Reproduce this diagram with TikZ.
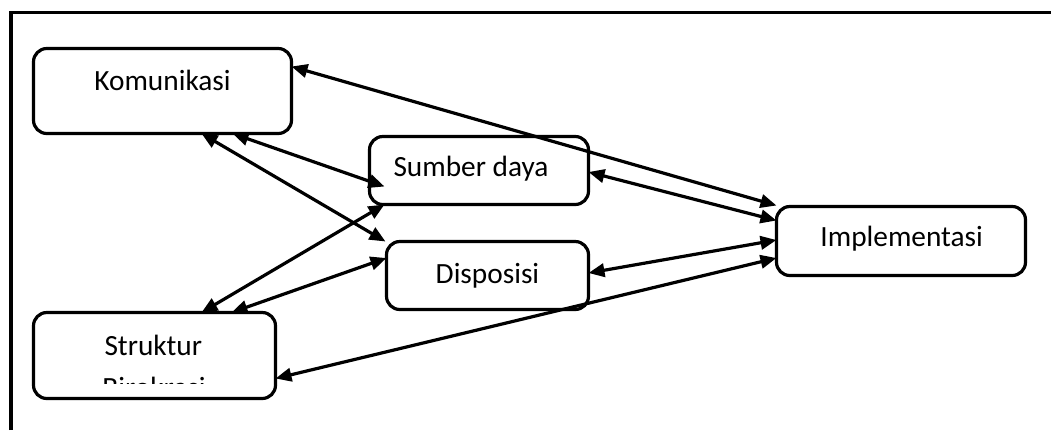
\documentclass[tikz,border=0pt]{standalone}
\usepackage{fontspec}
\setmainfont{Carlito}
\usetikzlibrary{arrows.meta,calc}
\begin{document}
\begin{tikzpicture}[x=0.75pt,y=-0.75pt,
  box/.style={draw=black,line width=2.4pt,rounded corners=10pt,inner sep=0pt,outer sep=0pt},
  lbl/.style={anchor=base,inner sep=0pt,font=\fontsize{22}{26}\selectfont},
  link/.style={line width=2.4pt,{Triangle[length=12pt,width=10pt]}-{Triangle[length=12pt,width=10pt]}}]
\useasboundingbox (0,0) rectangle (1051,430);
% outer frame (left and top only)
\draw[line width=2.8pt] (11,430) -- (11,12.5) -- (1051,12.5);
% boxes
\node[box,minimum width=258*0.75pt,minimum height=85*0.75pt] (kom) at (162.5,91) {};
\node[box,minimum width=219*0.75pt,minimum height=68*0.75pt] (sum) at (479,170.5) {};
\node[box,minimum width=202*0.75pt,minimum height=68*0.75pt] (dis) at (487.5,275.5) {};
\node[box,minimum width=249*0.75pt,minimum height=69*0.75pt] (imp) at (901,241) {};
\node[box,minimum width=242*0.75pt,minimum height=86*0.75pt] (str) at (154.5,355.5) {};
% labels
\node[lbl] (tkom) at (162.5,90) {Komunikasi};
\node[lbl] (tsum) at (471,176.7) {Sumber daya};
\node[lbl] (tdis) at (487.5,283.3) {Disposisi};
\node[lbl] (timp) at (901.7,246.7) {Implementasi};
\node[lbl] (tstr) at (153.3,355) {Struktur};
\begin{scope}
\clip (34,360) rectangle (275,383);
\node[lbl] (tbir) at (154,397) {Birokrasi};
\end{scope}
% connectors
\coordinate (k1) at ($(kom.north east)+(0,18)$);
\coordinate (k2) at ($(kom.south west)+(199,0)$);
\coordinate (k3) at ($(kom.south west)+(168,0)$);
\coordinate (s1) at ($(sum.east)+(0,1.5)$);
\coordinate (s2) at ($(sum.south west)+(15,-18)$);
\coordinate (s3) at ($(sum.south west)+(15,0)$);
\coordinate (d1) at ($(dis.east)+(0,-2.5)$);
\coordinate (d2) at ($(dis.north west)+(-1,0)$);
\coordinate (d3) at ($(dis.west)+(0,-17.5)$);
\coordinate (i1) at ($(imp.north west)+(0,-1)$);
\coordinate (i2) at ($(imp.north west)+(0,14)$);
\coordinate (i3) at ($(imp.west)+(0,-1)$);
\coordinate (i4) at ($(imp.west)+(0,17)$);
\coordinate (t1) at ($(str.south east)+(0,-20)$);
\coordinate (t2) at ($(str.north west)+(168,0)$);
\coordinate (t3) at ($(str.north west)+(198,0)$);
\draw[link] (k1) -- (i1);
\draw[link] (s1) -- (i2);
\draw[link] (d1) -- (i3);
\draw[link] (t1) -- (i4);
\draw[link] (k2) -- (s2);
\draw[link] (k3) -- (d2);
\draw[link] (t2) -- (s3);
\draw[link] (t3) -- (d3);
\end{tikzpicture}
\end{document}
